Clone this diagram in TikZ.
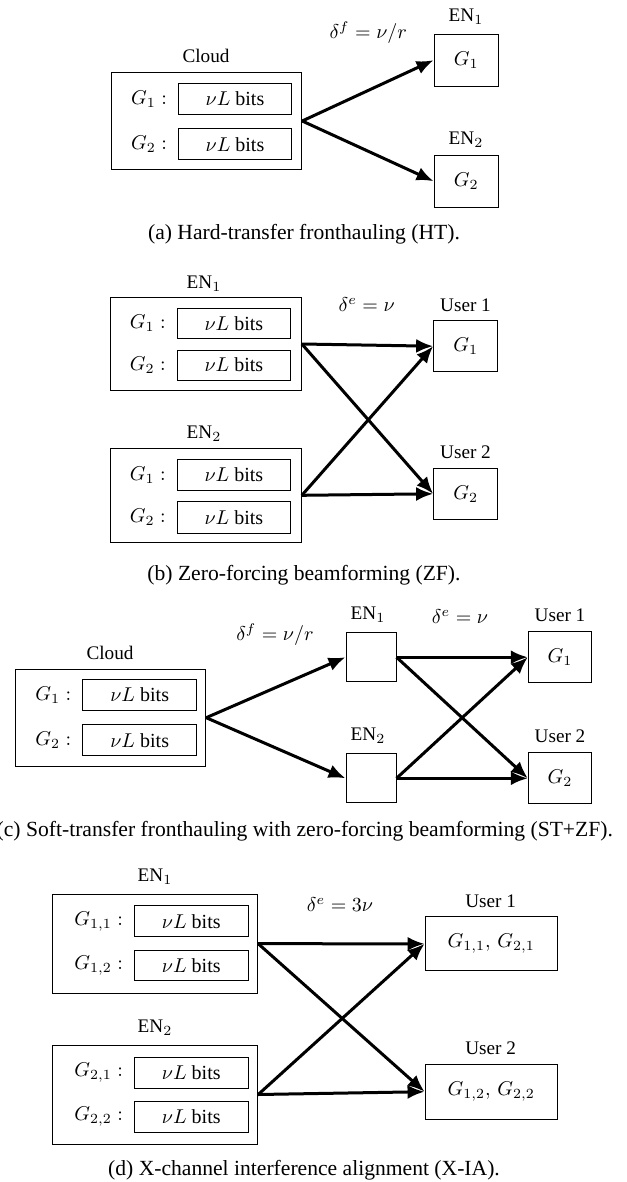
\documentclass[tikz,border=0pt]{standalone}
\usepackage{fontspec}
\setmainfont{Liberation Serif}
\usetikzlibrary{arrows.meta}
\tikzset{
  box/.style={draw, line width=0.5pt, rectangle, inner sep=0pt},
  sz/.style 2 args={minimum width=#1*0.5pt, minimum height=#2*0.5pt},
  lbl/.style={inner sep=0pt, font=\fontsize{9.6}{11}\selectfont},
  txt/.style={font=\fontsize{10}{12}\selectfont},
  glab/.style={anchor=east, inner sep=0pt, font=\fontsize{10}{12}\selectfont},
  captxt/.style={inner sep=0pt, font=\fontsize{10.8}{13}\selectfont},
  arr/.style={line width=1.5pt, -{Latex[length=8.5pt,width=7pt]}},
}
\begin{document}
\begin{tikzpicture}[x=0.5pt,y=-0.5pt]
\useasboundingbox (0,0) rectangle (626,1182);
% ---------------- (a) ----------------
\node[box,sz={190}{96.6}] (cA) at (206.7,121) {};
\node[box,sz={113.4}{30.7},txt] (cA1) at (235,98.7) {$\nu L$ bits};
\node[box,sz={113.4}{30.5},txt] (cA2) at (235,144.2) {$\nu L$ bits};
\node[glab] (gA1) at ([xshift=-5.25pt]cA1.west) {$G_1:$};
\node[glab] (gA2) at ([xshift=-5.25pt]cA2.west) {$G_2:$};
\node[lbl] (cloudA) at (206,56) {Cloud};
\node[box,sz={64.3}{51.7},txt] (enA1) at (466.2,60.2) {$G_1$};
\node[box,sz={64.3}{52.3},txt] (enA2) at (466.2,181.2) {$G_2$};
\node[lbl] (enA1l) at (466,17) {EN$_1$};
\node[lbl] (enA2l) at (466,140) {EN$_2$};
\node[txt,inner sep=0pt] (dA) at (368.3,32.7) {$\delta^f = \nu/r$};
\draw[arr] (cA.east) -- (enA1.west);
\draw[arr] (cA.east) -- (enA2.west);
\node[captxt] (capA) at (304,234) {(a) Hard-transfer fronthauling (HT).};
% ---------------- (b) ----------------
\node[box,sz={191.3}{93.4}] (eB1) at (205.7,344) {};
\node[box,sz={113.7}{30},txt] (eB11) at (233.9,323.3) {$\nu L$ bits};
\node[box,sz={113.7}{30},txt] (eB12) at (233.9,365) {$\nu L$ bits};
\node[glab] (gB11) at ([xshift=-5.25pt]eB11.west) {$G_1:$};
\node[glab] (gB12) at ([xshift=-5.25pt]eB12.west) {$G_2:$};
\node[lbl] (eB1l) at (204,283.3) {EN$_1$};
\node[box,sz={191.3}{94}] (eB2) at (205.7,495.3) {};
\node[box,sz={113.7}{30.7},txt] (eB21) at (233.9,474.7) {$\nu L$ bits};
\node[box,sz={113.7}{31.6},txt] (eB22) at (233.9,517.5) {$\nu L$ bits};
\node[glab] (gB21) at ([xshift=-5.25pt]eB21.west) {$G_1:$};
\node[glab] (gB22) at ([xshift=-5.25pt]eB22.west) {$G_2:$};
\node[lbl] (eB2l) at (204,433.3) {EN$_2$};
\node[box,sz={64.3}{51},txt] (uB1) at (465.8,346.2) {$G_1$};
\node[box,sz={64.3}{51},txt] (uB2) at (465.8,493.8) {$G_2$};
\node[lbl] (uB1l) at (465.5,305) {User 1};
\node[lbl] (uB2l) at (465.5,452.7) {User 2};
\node[txt,inner sep=0pt] (dB) at (366.7,305) {$\delta^e = \nu$};
\draw[arr] (eB1.east) -- (uB1.west);
\draw[arr] (eB1.east) -- (uB2.west);
\draw[arr] (eB2.east) -- (uB1.west);
\draw[arr] (eB2.east) -- (uB2.west);
\node[captxt] (capB) at (304,575) {(b) Zero-forcing beamforming (ZF).};
% ---------------- (c) ----------------
\node[box,sz={190}{96.7}] (cC) at (110.7,717.7) {};
\node[box,sz={114}{30.7},txt] (cC1) at (139.7,694.7) {$\nu L$ bits};
\node[box,sz={114}{30.7},txt] (cC2) at (139.7,740.3) {$\nu L$ bits};
\node[glab] (gC1) at ([xshift=-5.25pt]cC1.west) {$G_1:$};
\node[glab] (gC2) at ([xshift=-5.25pt]cC2.west) {$G_2:$};
\node[lbl] (cloudC) at (110,653.3) {Cloud};
\node[box,sz={50}{49}] (eC1) at (371,657.2) {};
\node[box,sz={50}{48.7}] (eC2) at (371,778.3) {};
\node[lbl] (eC1l) at (368,615) {EN$_1$};
\node[lbl] (eC2l) at (368,736) {EN$_2$};
\node[box,sz={63.4}{51},txt] (uC1) at (560,657.2) {$G_1$};
\node[box,sz={63.4}{51.3},txt] (uC2) at (560,778.3) {$G_2$};
\node[lbl] (uC1l) at (560,615) {User 1};
\node[lbl] (uC2l) at (560,736.7) {User 2};
\node[txt,inner sep=0pt] (dCf) at (275,635) {$\delta^f = \nu/r$};
\node[txt,inner sep=0pt] (dCe) at (460,616.7) {$\delta^e = \nu$};
\draw[arr] (cC.east) -- (eC1.west);
\draw[arr] (cC.east) -- (eC2.west);
\draw[arr] (eC1.east) -- (uC1.west);
\draw[arr] (eC1.east) -- (uC2.west);
\draw[arr] (eC2.east) -- (uC1.west);
\draw[arr] (eC2.east) -- (uC2.west);
\node[captxt,anchor=east] (capC) at (613.3,831.7) {(c) Soft-transfer fronthauling with zero-forcing beamforming (ST+ZF).};
% ---------------- (d) ----------------
\node[box,sz={205}{99.3}] (eD1) at (155.2,943.7) {};
\node[box,sz={114}{30.7},txt] (eD11) at (191.3,921.3) {$\nu L$ bits};
\node[box,sz={114}{30.3},txt] (eD12) at (191.3,965.8) {$\nu L$ bits};
\node[glab] (gD11) at ([xshift=-5.25pt]eD11.west) {$G_{1,1}:$};
\node[glab] (gD12) at ([xshift=-5.25pt]eD12.west) {$G_{1,2}:$};
\node[lbl] (eD1l) at (155,876.7) {EN$_1$};
\node[box,sz={205}{99}] (eD2) at (155.2,1094.5) {};
\node[box,sz={114}{31},txt] (eD21) at (191.3,1072.8) {$\nu L$ bits};
\node[box,sz={114}{30.6},txt] (eD22) at (191.3,1117) {$\nu L$ bits};
\node[glab] (gD21) at ([xshift=-5.25pt]eD21.west) {$G_{2,1}:$};
\node[glab] (gD22) at ([xshift=-5.25pt]eD22.west) {$G_{2,2}:$};
\node[lbl] (eD2l) at (155,1027.5) {EN$_2$};
\node[box,sz={132.3}{54.3},txt] (uD1) at (491.2,943.8) {$G_{1,1},\, G_{2,1}$};
\node[box,sz={132.3}{54.7},txt] (uD2) at (491.2,1091.7) {$G_{1,2},\, G_{2,2}$};
\node[lbl] (uD1l) at (490.7,901.5) {User 1};
\node[lbl] (uD2l) at (490.7,1048.3) {User 2};
\node[txt,inner sep=0pt] (dD) at (340,905) {$\delta^e = 3\nu$};
\draw[arr] (eD1.east) -- (uD1.west);
\draw[arr] (eD1.east) -- (uD2.west);
\draw[arr] (eD2.east) -- (uD1.west);
\draw[arr] (eD2.east) -- (uD2.west);
\node[captxt] (capD) at (304,1170) {(d) X-channel interference alignment (X-IA).};
\end{tikzpicture}
\end{document}
